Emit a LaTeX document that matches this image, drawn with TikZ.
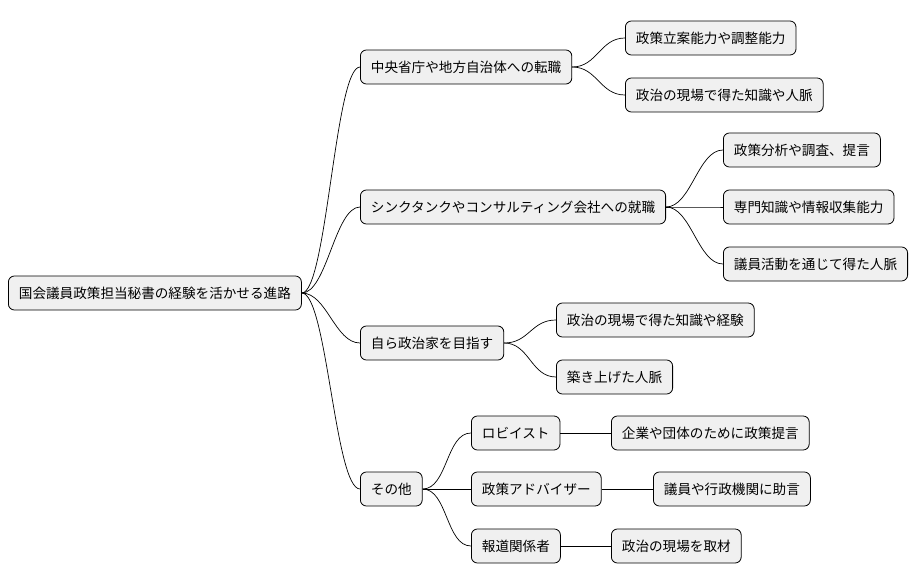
\documentclass[tikz,border=0pt]{standalone}
\usepackage{fontspec}
\setmainfont{Noto Sans CJK JP}
\begin{document}
\begin{tikzpicture}[x=1pt,y=-1pt,
  box/.style={draw=black,fill=black!6,rounded corners=6pt,line width=0.8pt,anchor=west,
    inner xsep=10.5pt,minimum height=34pt,font=\fontsize{13.6}{16}\selectfont},
  link/.style={draw=black,line width=0.7pt}]
\useasboundingbox (0,0) rectangle (922,583);
\node[box] (root) at (8,293) {国会議員政策担当秘書の経験を活かせる進路};
\node[box] (a) at (360,67) {中央省庁や地方自治体への転職};
\node[box] (a1) at (625,38) {政策立案能力や調整能力};
\node[box] (a2) at (625,95) {政治の現場で得た知識や人脈};
\node[box] (b) at (360,207) {シンクタンクやコンサルティング会社への就職};
\node[box] (b1) at (723,150) {政策分析や調査、提言};
\node[box] (b2) at (723,207) {専門知識や情報収集能力};
\node[box] (b3) at (723,264) {議員活動を通じて得た人脈};
\node[box] (c) at (360,343) {自ら政治家を目指す};
\node[box] (c1) at (556,320) {政治の現場で得た知識や経験};
\node[box] (c2) at (556,377) {築き上げた人脈};
\node[box] (d) at (360,489) {その他};
\node[box] (d1) at (471,433) {ロビイスト};
\node[box] (d1a) at (611,433) {企業や団体のために政策提言};
\node[box] (d2) at (471,489) {政策アドバイザー};
\node[box] (d2a) at (653,489) {議員や行政機関に助言};
\node[box] (d3) at (471,546) {報道関係者};
\node[box] (d3a) at (611,546) {政治の現場を取材};
\foreach \p/\c in {root/a,root/b,root/c,root/d,a/a1,a/a2,b/b1,b/b2,b/b3,c/c1,c/c2,d/d1,d/d2,d/d3,d1/d1a,d2/d2a,d3/d3a}
  \draw[link] (\p.east) .. controls +(25,0) and +(-25,0) .. (\c.west);
\end{tikzpicture}
\end{document}
